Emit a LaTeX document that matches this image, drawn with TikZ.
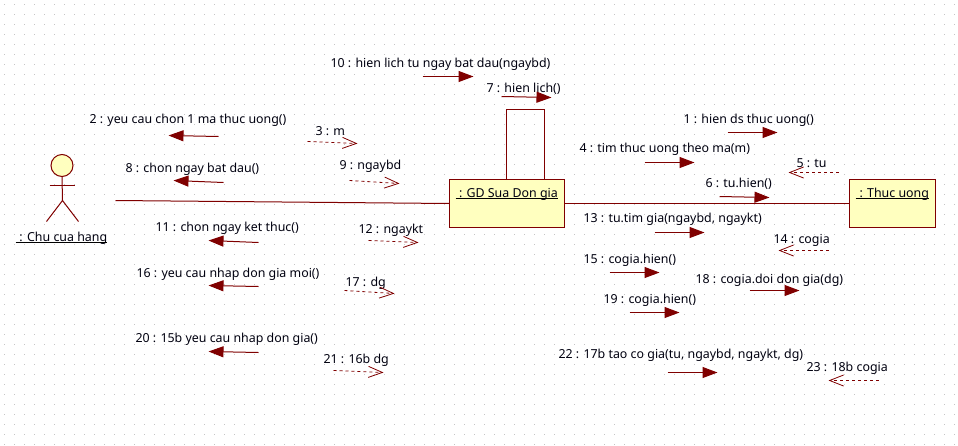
\documentclass[tikz,border=0pt]{standalone}
\usepackage{fontspec}
\setmainfont{Noto Sans}
\usetikzlibrary{arrows.meta}
\definecolor{umlred}{HTML}{800000}
\definecolor{umlfill}{HTML}{FFFFBF}
\definecolor{griddot}{HTML}{C4C4C4}
\definecolor{txt}{HTML}{000010}
\tikzset{
  lbl/.style={anchor=base west,inner sep=0pt,outer sep=0pt,text=txt,font=\fontsize{12.4pt}{14pt}\selectfont},
  objbox/.style={draw=umlred,fill=umlfill,line width=1.25pt,inner sep=0pt,outer sep=0pt},
  assoc/.style={draw=umlred,line width=1pt},
  loopline/.style={draw=umlred,line width=1.1pt},
  callmsg/.style={draw=umlred,line width=1pt,-{Triangle[length=15pt,width=11pt]}},
  retmsg/.style={draw=umlred,line width=.8pt,dash pattern=on 3pt off 3pt,-{Straight Barb[length=14pt,width=11pt,line width=.8pt]}},
  ul/.style={draw=black,line width=1pt},
}
\newcommand{\msgarrow}[6]{%
  \coordinate (#1s) at (#3,#4);
  \coordinate (#1e) at (#5,#6);
  \draw[#2] (#1s) -- (#1e);
}
\begin{document}
\begin{tikzpicture}[x=1pt,y=-1pt]
\useasboundingbox (0,0) rectangle (958,445);
\fill[white] (0,0) rectangle (958,445);
% grid of dots
\foreach \yy in {4,14,...,444}
  \draw[griddot,line width=1pt,dash pattern=on 1pt off 9pt] (4,\yy+.5) -- (958,\yy+.5);

\begin{scope}[shift={(.5,.5)}]
% associations and objects
\coordinate (actorlink) at (115,200);
\draw[loopline] (506,179) -- (506,109) -- (544,109) -- (544,179);
\node[objbox,minimum width=115pt,minimum height=48pt] (gd) at (506.5,203) {};
\node[objbox,minimum width=86pt,minimum height=48pt] (tu) at (892,203) {};
\draw[assoc] (actorlink) -- (gd.west);
\draw[assoc] (gd.east) -- (tu.west);

\node[lbl] (gdname) at (458.5,197) {: GD Sua Don gia};
\draw[ul] (455,198) -- (557,198);
\node[lbl] (tuname) at (859,197) {: Thuc uong};
\draw[ul] (855,198) -- (928,198);

% actor
\node[circle,draw=umlred,fill=umlfill,line width=1pt,minimum size=22pt,inner sep=0pt] (head) at (61.5,165) {};
\coordinate (hip) at (62,200);
\draw[assoc] (head.south) -- (hip);
\draw[assoc] (49,185) -- (74,185);
\draw[assoc] (46,221) -- (hip) -- (78,221);
\node[lbl] (actor) at (19,241) {: Chu cua hang};
\draw[ul] (15,242) -- (106,242);

% labels
\node[lbl] (l1) at (683,123) {1 : hien ds thuc uong()};
\node[lbl] (l2) at (89,123) {2 : yeu cau chon 1 ma thuc uong()};
\node[lbl] (l3) at (315,135) {3 : m};
\node[lbl] (l4) at (579,152) {4 : tim thuc uong theo ma(m)};
\node[lbl] (l5) at (796,167) {5 : tu};
\node[lbl] (l6) at (705,187) {6 : tu.hien()};
\node[lbl] (l7) at (486,92) {7 : hien lich()};
\node[lbl] (l8) at (125,172) {8 : chon ngay bat dau()};
\node[lbl] (l9) at (339,169) {9 : ngaybd};
\node[lbl] (l10) at (330,66.5) {10 : hien lich tu ngay bat dau(ngaybd)};
\node[lbl] (l11) at (155,231) {11 : chon ngay ket thuc()};
\node[lbl] (l12) at (358,233) {12 : ngaykt};
\node[lbl] (l13) at (583,222) {13 : tu.tim gia(ngaybd, ngaykt)};
\node[lbl] (l14) at (773,243) {14 : cogia};
\node[lbl] (l15) at (583,263) {15 : cogia.hien()};
\node[lbl] (l16) at (136,277) {16 : yeu cau nhap don gia moi()};
\node[lbl] (l17) at (345,286) {17 : dg};
\node[lbl] (l18) at (695,283) {18 : cogia.doi don gia(dg)};
\node[lbl] (l19) at (603,303) {19 : cogia.hien()};
\node[lbl] (l20) at (135,342) {20 : 15b yeu cau nhap don gia()};
\node[lbl] (l21) at (323,363) {21 : 16b dg};
\node[lbl] (l22) at (558,358) {22 : 17b tao co gia(tu, ngaybd, ngaykt, dg)};
\node[lbl] (l23) at (806,371) {23 : 18b cogia};

% call messages
\msgarrow{m10}{callmsg}{422}{76}{473}{76}
\msgarrow{m7}{callmsg}{501}{96}{551}{97}
\msgarrow{m2}{callmsg}{218}{136}{168}{135}
\msgarrow{m8}{callmsg}{223}{182}{173}{180}
\msgarrow{m11}{callmsg}{258}{242}{208}{240}
\msgarrow{m16}{callmsg}{258}{286}{208}{285}
\msgarrow{m20}{callmsg}{258}{352}{208}{351}
\msgarrow{m1}{callmsg}{727}{132}{777}{132}
\msgarrow{m4}{callmsg}{644}{162}{694}{162}
\msgarrow{m6}{callmsg}{719}{196}{769}{197}
\msgarrow{m13}{callmsg}{654}{232}{704}{232}
\msgarrow{m15}{callmsg}{609}{272}{659}{272}
\msgarrow{m18}{callmsg}{749}{290}{799}{290}
\msgarrow{m19}{callmsg}{629}{312}{679}{312}
\msgarrow{m22}{callmsg}{667}{372}{717}{372}
% return messages
\msgarrow{m3}{retmsg}{307}{141}{357}{143}
\msgarrow{m9}{retmsg}{349}{180}{399}{183}
\msgarrow{m12}{retmsg}{368}{240}{418}{242}
\msgarrow{m17}{retmsg}{344}{290}{394}{293}
\msgarrow{m21}{retmsg}{333}{370}{383}{372}
\msgarrow{m5}{retmsg}{838}{172}{788}{172}
\msgarrow{m14}{retmsg}{828}{250}{778}{250}
\msgarrow{m23}{retmsg}{878}{380}{828}{380}
\end{scope}
\end{tikzpicture}
\end{document}
